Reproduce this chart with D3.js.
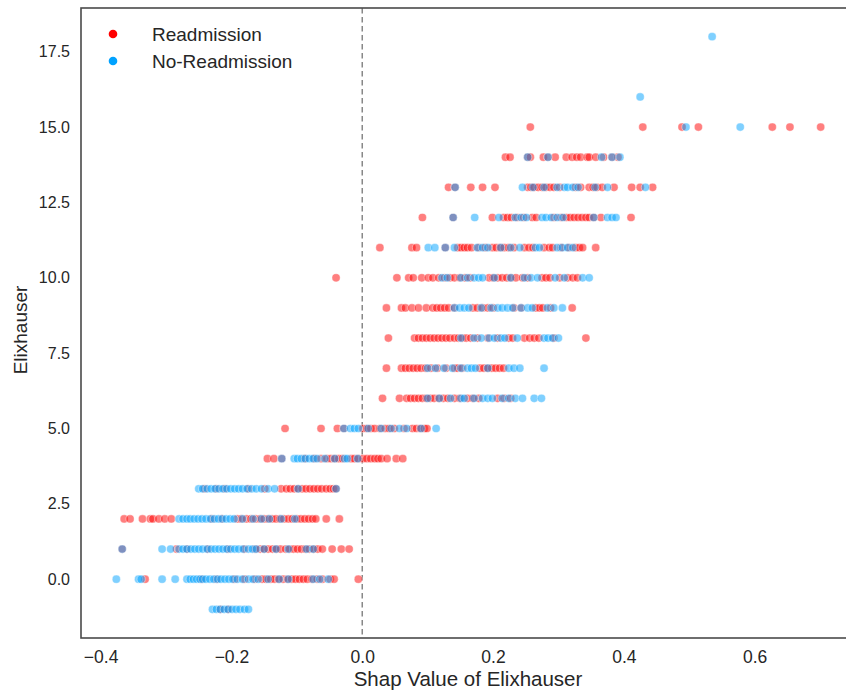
<!DOCTYPE html>
<html>
<head>
<meta charset="utf-8">
<script src="https://cdn.jsdelivr.net/npm/d3@7"></script>
<style>
	body { margin: 0; background: #fff; }
	text { font-family: "Liberation Sans", Arial, sans-serif; fill: #262626; }
</style>
</head>
<body>
<div id="chart"></div>
<script>
// Elixhauser level -> shap values, one entry per row of dots
var readmission = [
	[-1, [-0.217, -0.205]],
	[0, [-0.332, -0.246, -0.223, -0.195, -0.180, -0.164, -0.153, -0.147, -0.140, -0.134, -0.128, -0.121, -0.114, -0.108, -0.102, -0.096, -0.090, -0.084, -0.077, -0.069, -0.061, -0.049, -0.043, -0.006]],
	[1, [-0.367, -0.284, -0.268, -0.236, -0.205, -0.180, -0.164, -0.156, -0.150, -0.144, -0.137, -0.131, -0.125, -0.117, -0.111, -0.105, -0.099, -0.093, -0.087, -0.081, -0.074, -0.068, -0.061, -0.046, -0.032, -0.020]],
	[2, [-0.364, -0.355, -0.336, -0.324, -0.320, -0.311, -0.302, -0.292, -0.230, -0.215, -0.191, -0.185, -0.177, -0.170, -0.163, -0.156, -0.150, -0.144, -0.138, -0.132, -0.126, -0.120, -0.113, -0.107, -0.100, -0.094, -0.088, -0.082, -0.076, -0.071, -0.055, -0.035]],
	[3, [-0.241, -0.223, -0.210, -0.174, -0.149, -0.124, -0.116, -0.110, -0.104, -0.098, -0.092, -0.086, -0.080, -0.074, -0.068, -0.062, -0.055, -0.049, -0.044, -0.040]],
	[4, [-0.145, -0.135, -0.123, -0.088, -0.073, -0.063, -0.054, -0.048, -0.042, -0.036, -0.030, -0.017, -0.012, -0.006, 0.001, 0.007, 0.013, 0.019, 0.024, 0.029, 0.038, 0.052, 0.062]],
	[5, [-0.118, -0.063, -0.038, -0.028, 0.001, 0.007, 0.013, 0.019, 0.027, 0.035, 0.041, 0.049, 0.064, 0.077, 0.083, 0.089, 0.095, 0.099]],
	[6, [0.031, 0.057, 0.068, 0.074, 0.080, 0.086, 0.092, 0.098, 0.104, 0.110, 0.117, 0.124, 0.131, 0.141, 0.149, 0.161, 0.169, 0.178, 0.207, 0.217, 0.227]],
	[7, [0.037, 0.060, 0.066, 0.072, 0.078, 0.084, 0.090, 0.097, 0.105, 0.115, 0.128, 0.141, 0.146, 0.153, 0.180, 0.186, 0.192, 0.198, 0.204, 0.210, 0.216]],
	[8, [0.040, 0.080, 0.086, 0.092, 0.098, 0.104, 0.110, 0.116, 0.122, 0.128, 0.134, 0.141, 0.147, 0.153, 0.159, 0.166, 0.176, 0.192, 0.207, 0.224, 0.230, 0.248, 0.256, 0.263, 0.270, 0.293, 0.342]],
	[9, [0.037, 0.060, 0.066, 0.076, 0.086, 0.098, 0.108, 0.114, 0.120, 0.126, 0.132, 0.141, 0.169, 0.176, 0.184, 0.192, 0.200, 0.232, 0.243, 0.265, 0.271, 0.276, 0.288, 0.321]],
	[10, [-0.040, 0.053, 0.071, 0.078, 0.091, 0.101, 0.108, 0.117, 0.126, 0.134, 0.141, 0.149, 0.157, 0.165, 0.194, 0.200, 0.207, 0.214, 0.221, 0.228, 0.235, 0.245, 0.253, 0.275, 0.281, 0.287, 0.302, 0.314, 0.322, 0.329]],
	[11, [0.027, 0.076, 0.083, 0.127, 0.146, 0.151, 0.156, 0.161, 0.167, 0.178, 0.188, 0.199, 0.205, 0.211, 0.217, 0.224, 0.232, 0.248, 0.255, 0.261, 0.278, 0.286, 0.291, 0.304, 0.316, 0.326, 0.332, 0.337, 0.357]],
	[12, [0.092, 0.139, 0.199, 0.216, 0.222, 0.228, 0.237, 0.247, 0.260, 0.266, 0.293, 0.304, 0.312, 0.318, 0.324, 0.330, 0.336, 0.342, 0.347, 0.354, 0.365, 0.411]],
	[13, [0.132, 0.142, 0.166, 0.184, 0.203, 0.253, 0.258, 0.263, 0.269, 0.275, 0.281, 0.287, 0.293, 0.302, 0.326, 0.334, 0.347, 0.353, 0.359, 0.367, 0.385, 0.412, 0.425, 0.444]],
	[14, [0.219, 0.226, 0.253, 0.257, 0.277, 0.284, 0.295, 0.312, 0.321, 0.328, 0.334, 0.344, 0.347, 0.357, 0.369, 0.382, 0.391]],
	[15, [0.257, 0.429, 0.489, 0.514, 0.627, 0.654, 0.701]]
]

var noReadmission = [
	[-1, [-0.229, -0.223, -0.217, -0.211, -0.205, -0.199, -0.193, -0.187, -0.180, -0.174]],
	[0, [-0.376, -0.342, -0.338, -0.306, -0.286, -0.268, -0.263, -0.258, -0.253, -0.248, -0.244, -0.239, -0.233, -0.227, -0.221, -0.216, -0.210, -0.204, -0.198, -0.191, -0.183, -0.174, -0.167, -0.159, -0.144, -0.127, -0.113, -0.075, -0.065, -0.052]],
	[1, [-0.367, -0.306, -0.293, -0.280, -0.274, -0.268, -0.262, -0.256, -0.250, -0.244, -0.237, -0.231, -0.225, -0.219, -0.213, -0.207, -0.201, -0.195, -0.189, -0.182, -0.174, -0.168, -0.162, -0.150, -0.132, -0.113, -0.085, -0.075]],
	[2, [-0.280, -0.274, -0.268, -0.263, -0.257, -0.251, -0.245, -0.239, -0.232, -0.226, -0.220, -0.214, -0.208, -0.202, -0.196, -0.183, -0.167, -0.154, -0.142, -0.124, -0.103]],
	[3, [-0.250, -0.244, -0.237, -0.231, -0.225, -0.219, -0.213, -0.207, -0.201, -0.195, -0.189, -0.183, -0.176, -0.169, -0.162, -0.154, -0.144, -0.134, -0.098, -0.040]],
	[4, [-0.123, -0.104, -0.099, -0.093, -0.087, -0.081, -0.075, -0.069, -0.057, -0.042, -0.027, -0.023, -0.007]],
	[5, [-0.028, -0.018, -0.012, -0.006, 0.009, 0.029, 0.044, 0.057, 0.068, 0.090, 0.113]],
	[6, [0.100, 0.118, 0.135, 0.151, 0.156, 0.171, 0.184, 0.192, 0.199, 0.214, 0.224, 0.234, 0.245, 0.263, 0.274]],
	[7, [0.100, 0.112, 0.125, 0.138, 0.151, 0.161, 0.167, 0.173, 0.192, 0.224, 0.232, 0.241, 0.278]],
	[8, [0.151, 0.171, 0.182, 0.194, 0.202, 0.212, 0.218, 0.237, 0.278, 0.284, 0.291, 0.300]],
	[9, [0.141, 0.149, 0.156, 0.163, 0.182, 0.197, 0.207, 0.214, 0.222, 0.230, 0.243, 0.253, 0.260, 0.283, 0.293, 0.306]],
	[10, [0.122, 0.130, 0.151, 0.161, 0.171, 0.178, 0.184, 0.202, 0.227, 0.248, 0.258, 0.268, 0.295, 0.309, 0.337, 0.347]],
	[11, [0.101, 0.111, 0.127, 0.141, 0.176, 0.184, 0.192, 0.212, 0.227, 0.241, 0.265, 0.271, 0.298, 0.306, 0.314, 0.322]],
	[12, [0.139, 0.172, 0.209, 0.234, 0.243, 0.251, 0.275, 0.281, 0.289, 0.298, 0.307, 0.354, 0.375, 0.382, 0.388]],
	[13, [0.142, 0.245, 0.261, 0.278, 0.298, 0.309, 0.314, 0.322, 0.330, 0.356, 0.375, 0.433]],
	[14, [0.253, 0.284, 0.366, 0.382, 0.394]],
	[15, [0.495, 0.578]],
	[16, [0.425]],
	[18, [0.535]]
]

var xTicks = [-0.4, -0.2, 0.0, 0.2, 0.4, 0.6]
var yTicks = [0.0, 2.5, 5.0, 7.5, 10.0, 12.5, 15.0, 17.5]
var legendLabels = ["Readmission", "No-Readmission"]

var w = 846
var h = 690
var boundaries = {
	top: 8,
	bottom: 638,
	left: 81,
	right: 856
}
var red = "#ff0000"
var blue = "#00a2ff"

var svg = d3.select("#chart")
	.append("svg")
	.attr("width", w)
	.attr("height", h)

var xScale = d3.scaleLinear()
	.domain([-0.430, 0.755])
	.range([boundaries.left, boundaries.right])

var yScale = d3.scaleLinear()
	.domain([-1.95, 18.95])
	.range([boundaries.bottom, boundaries.top])

// flatten rows into points
let toPoints = rows => rows.flatMap(r => r[1].map(x => ({ x: x, y: r[0] })))

// zero line
svg.append("line")
	.attr("x1", xScale(0)).attr("x2", xScale(0))
	.attr("y1", boundaries.top).attr("y2", boundaries.bottom)
	.attr("stroke", "#7f7f7f")
	.attr("stroke-width", 1.4)
	.attr("stroke-dasharray", "5.5,3.5")

// dots: readmission underneath, no-readmission on top
let drawDots = (rows, color) => {
	svg.append("g").selectAll("circle")
		.data(toPoints(rows))
		.enter()
		.append("circle")
		.attr("cx", d => xScale(d.x))
		.attr("cy", d => yScale(d.y))
		.attr("r", 4.1)
		.attr("fill", color)
		.attr("fill-opacity", 0.5)
		.attr("stroke", "#fff")
		.attr("stroke-opacity", 0.7)
		.attr("stroke-width", 0.6)
}
drawDots(readmission, red)
drawDots(noReadmission, blue)

// x axis
let xAxis = d3.axisBottom(xScale)
	.tickValues(xTicks)
	.tickSize(0)
	.tickPadding(13)
	.tickFormat(d3.format(".1f"))

svg.append("g")
	.attr("transform", "translate(0, " + boundaries.bottom + ")")
	.call(xAxis)
	.call(g => g.select(".domain").remove())
	.selectAll("text")
	.style("font-size", "17.5px")

// y axis
let yAxis = d3.axisLeft(yScale)
	.tickValues(yTicks)
	.tickSize(0)
	.tickPadding(11)
	.tickFormat(d3.format(".1f"))

svg.append("g")
	.attr("transform", "translate(" + boundaries.left + ", 0)")
	.call(yAxis)
	.call(g => g.select(".domain").remove())
	.selectAll("text")
	.style("font-size", "16px")

// frame
svg.append("rect")
	.attr("x", boundaries.left)
	.attr("y", boundaries.top)
	.attr("width", boundaries.right - boundaries.left)
	.attr("height", boundaries.bottom - boundaries.top)
	.attr("fill", "none")
	.attr("stroke", "#4a4a4a")
	.attr("stroke-width", 1.6)

// axis labels
svg.append("text")
	.attr("x", 468)
	.attr("y", 686)
	.style("text-anchor", "middle")
	.style("font-size", "20.5px")
	.text("Shap Value of Elixhauser")

svg.append("text")
	.attr("transform", "rotate(-90)")
	.attr("x", -330)
	.attr("y", 27)
	.style("text-anchor", "middle")
	.style("font-size", "19px")
	.text("Elixhauser")

// legend
let legend = svg.append("g")
legend.selectAll("circle")
	.data(legendLabels)
	.enter()
	.append("circle")
	.attr("cx", 113)
	.attr("cy", (d, i) => 34 + i * 27)
	.attr("r", 4.3)
	.attr("fill", (d, i) => i === 0 ? red : blue)

legend.selectAll("text")
	.data(legendLabels)
	.enter()
	.append("text")
	.attr("x", 152)
	.attr("y", (d, i) => 34 + i * 27)
	.attr("dy", "0.35em")
	.style("font-size", "19px")
	.text(d => d)
</script>
</body>
</html>
